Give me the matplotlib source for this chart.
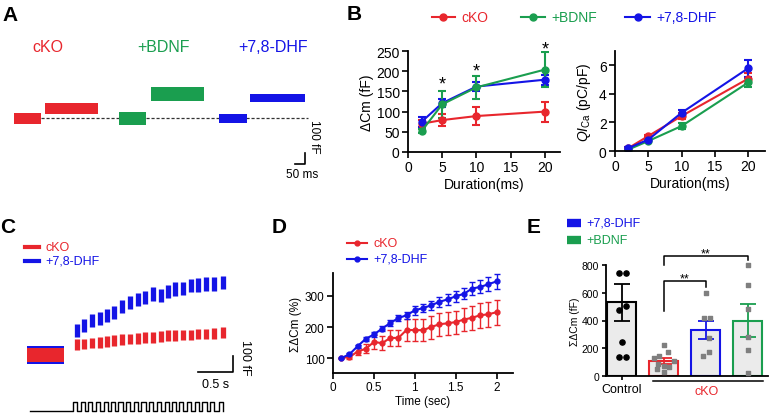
import numpy as np
import matplotlib
matplotlib.use('Agg')
import matplotlib.pyplot as plt
from matplotlib.lines import Line2D

plt.rcParams['font.family'] = ['Liberation Sans', 'DejaVu Sans']
plt.rcParams['mathtext.fontset'] = 'custom'
plt.rcParams['mathtext.rm'] = 'Liberation Sans'
plt.rcParams['mathtext.it'] = 'Liberation Sans:italic'

RED = '#e8262d'
GREEN = '#1a9e4f'
BLUE = '#1414e6'

####### data ###################################
# A: example capacitance jumps (ms, fF)
a_labels = ['cKO', '+BDNF', '+7,8-DHF']
a_base_ms = [(70, 205), (595, 730), (1095, 1235)]
a_step_ms = [(225, 490), (755, 1020), (1250, 1525)]
a_step_fF = [91, 221, 182]

# B: dCm and QICa vs duration
dur = [2, 5, 10, 20]
dcm_cko = [70, 79, 89, 100]
dcm_cko_err = [10, 14, 22, 25]
dcm_bdnf = [52, 118, 160, 204]
dcm_bdnf_err = [5, 33, 28, 43]
dcm_dhf = [75, 121, 162, 179]
dcm_dhf_err = [12, 10, 12, 12]
star_dur = [5, 10, 20]
star_y = [168, 200, 256]
q_cko = [0.2, 1.05, 2.45, 5.07]
q_cko_err = [0.05, 0.1, 0.2, 0.4]
q_bdnf = [0.1, 0.7, 1.75, 4.8]
q_bdnf_err = [0.05, 0.08, 0.2, 0.3]
q_dhf = [0.2, 0.8, 2.68, 5.8]
q_dhf_err = [0.05, 0.1, 0.2, 0.6]

# C: train responses (s, fF above baseline)
c_base = (0.10, 0.63)
c_t = [0.81, 0.92, 1.03, 1.14, 1.25, 1.35, 1.46, 1.57, 1.68, 1.79,
       1.90, 2.01, 2.12, 2.22, 2.33, 2.44, 2.55, 2.66, 2.77, 2.90]
c_dhf = [152, 183, 214, 229, 246, 267, 304, 329, 346, 361,
         381, 371, 396, 413, 417, 433, 438, 444, 444, 454]
c_cko = [63, 69, 75, 79, 83, 89, 96, 100, 104, 111,
         111, 117, 121, 121, 125, 125, 131, 131, 136, 142]

# D: cumulative dCm (%)
d_t = [0.1, 0.2, 0.3, 0.4, 0.5, 0.6, 0.7, 0.8, 0.9, 1.0,
       1.1, 1.2, 1.3, 1.4, 1.5, 1.6, 1.7, 1.8, 1.9, 2.0]
d_cko = [101, 103, 121, 130, 152, 148, 165, 165, 191, 190,
         190, 200, 209, 212, 216, 224, 230, 238, 241, 248]
d_cko_err = [0, 6, 12, 15, 22, 22, 25, 25, 36, 35,
             35, 37, 37, 37, 37, 38, 38, 40, 40, 40]
d_dhf = [100, 112, 138, 162, 176, 195, 213, 229, 238, 254,
         261, 270, 281, 289, 299, 307, 324, 329, 338, 347]
d_dhf_err = [0, 3, 5, 6, 8, 9, 10, 11, 12, 14,
             14, 15, 16, 17, 17, 18, 20, 21, 22, 24]

# E: sum dCm (fF)
e_mean = [530, 108, 330, 400]
e_sem = [135, 22, 64, 117]
e_ctrl = [742, 742, 502, 478, 247, 135, 135]
e_cko = [226, 171, 147, 127, 105, 88, 74, 63, 50, 26]
e_dhf = [596, 416, 420, 272, 171, 142]
e_bdnf = [802, 658, 483, 279, 187, 19]

####### layout helpers (pixel coords, origin top-left) ###############
W, H = 771, 414
fig = plt.figure(figsize=(W / 100, H / 100), dpi=100)


def ax_px(x0, y0, x1, y1):
    return fig.add_axes([x0 / W, 1 - y1 / H, (x1 - x0) / W, (y1 - y0) / H])


def ftext(x, y, s, **kw):
    fig.text(x / W, 1 - y / H, s, **kw)


def fline(xs, ys, **kw):
    fig.add_artist(Line2D([x / W for x in xs], [1 - y / H for y in ys],
                          transform=fig.transFigure, **kw))


def style(ax, fs):
    for s in ['top', 'right']:
        ax.spines[s].set_visible(False)
    for s in ['left', 'bottom']:
        ax.spines[s].set_linewidth(1.3)
    ax.tick_params(direction='out', length=4, width=1.2, labelsize=fs, pad=2)


for lab, x, y in [('A', 2, 6), ('B', 347, 5), ('C', 0, 218), ('D', 272, 218), ('E', 527, 218)]:
    ftext(x, y, lab, fontsize=15, fontweight='bold', va='top', ha='left')

####### A ###############
axA = ax_px(0, 40, 330, 175)
axA.set_xlim(0, 1650)
axA.set_ylim(-506, 721)
axA.axis('off')
colsA = [RED, GREEN, BLUE]
halfA = [48, 60, 38]
axA.plot([205, 1540], [0, 0], color='#333333', lw=0.9, ls=(0, (2.5, 1.5)), zorder=1)
for i in range(3):
    b0, b1 = a_base_ms[i]
    s0, s1 = a_step_ms[i]
    axA.fill_between([b0, b1], -halfA[i], halfA[i], color=colsA[i], lw=0, zorder=2)
    axA.fill_between([s0, s1], a_step_fF[i] - halfA[i], a_step_fF[i] + halfA[i],
                     color=colsA[i], lw=0, zorder=2)
axA.plot([1475, 1525, 1525], [-415, -415, -315], color='black', lw=1.2)
ftext(48, 48, 'cKO', color=RED, fontsize=11.5, ha='center', va='center')
ftext(164, 48, '+BDNF', color=GREEN, fontsize=11.5, ha='center', va='center')
ftext(273, 48, '+7,8-DHF', color=BLUE, fontsize=11.5, ha='center', va='center')
ftext(314, 137, '100 fF', rotation=270, fontsize=8.5, ha='center', va='center')
ftext(302, 175, '50 ms', fontsize=8.5, ha='center', va='center')

####### B ###############
axB1 = ax_px(408, 52, 560, 153)
style(axB1, 10)
kw = dict(marker='o', ms=5, lw=1.5, capsize=3, elinewidth=1.5, capthick=1.5)
axB1.errorbar(dur, dcm_cko, yerr=dcm_cko_err, color=RED, **kw)
axB1.errorbar(dur, dcm_dhf, yerr=dcm_dhf_err, color=BLUE, **kw)
axB1.errorbar(dur, dcm_bdnf, yerr=dcm_bdnf_err, color=GREEN, **kw)
for x, y in zip(star_dur, star_y):
    axB1.text(x, y, '*', ha='center', va='center', fontsize=13, clip_on=False)
axB1.set_xlim(0, 22.2)
axB1.set_ylim(0, 250)
axB1.set_xticks([0, 5, 10, 15, 20])
axB1.set_yticks([0, 50, 100, 150, 200, 250])
axB1.set_ylabel('ΔCm (fF)', fontsize=10, labelpad=2)
axB1.set_xlabel('Duration(ms)', fontsize=10, labelpad=2)

axB2 = ax_px(615, 52, 765, 152)
style(axB2, 10)
axB2.errorbar(dur, q_cko, yerr=q_cko_err, color=RED, **kw)
axB2.errorbar(dur, q_bdnf, yerr=q_bdnf_err, color=GREEN, **kw)
axB2.errorbar(dur, q_dhf, yerr=q_dhf_err, color=BLUE, **kw)
axB2.set_xlim(0, 22.5)
axB2.set_ylim(0, 7)
axB2.set_xticks([0, 5, 10, 15, 20])
axB2.set_yticks([0, 2, 4, 6])
axB2.set_ylabel(r'$QI_{\mathrm{Ca}}$ (pC/pF)', fontsize=10, labelpad=4)
axB2.set_xlabel('Duration(ms)', fontsize=10, labelpad=2)

for x0, x1, c, t in [(432, 455, RED, 'cKO'), (521, 545, GREEN, '+BDNF'), (625, 650, BLUE, '+7,8-DHF')]:
    fline([x0, x1], [18, 18], color=c, lw=1.5)
    fline([(x0 + x1) / 2], [18], color=c, marker='o', ms=5)
    ftext(x1 + 6, 18, t, color=c, fontsize=10, va='center')

####### C ###############
axC = ax_px(20, 270, 250, 414)
axC.set_xlim(0, 3.286)
axC.set_ylim(-362.5, 537.5)
axC.axis('off')
axC.fill_between(c_base, -56, 56, color=BLUE, lw=0)
axC.fill_between(c_base, -45, 45, color=RED, lw=0)
c_dhf_a = np.array(c_dhf)
c_cko_a = np.array(c_cko)
axC.vlines(c_t, c_dhf_a - 42, c_dhf_a + 42, color=BLUE, lw=3.8)
axC.vlines(c_t, c_cko_a - 34, c_cko_a + 34, color=RED, lw=3.8)
axC.plot([2.543, 3.043, 3.043], [-106, -106, -6], color='black', lw=1.2)
# stimulus train
sx = [0.143]
sy = [-348]
for t in c_t:
    sx += [t - 0.055, t - 0.055, t + 0.005, t + 0.005]
    sy += [-348, -292, -292, -348]
axC.plot(sx, sy, color='black', lw=1.0)
ftext(245, 358, '100 fF', rotation=270, fontsize=9, ha='center', va='center')
ftext(216, 385, '0.5 s', fontsize=9, ha='center', va='center')
for y, c, t in [(248, RED, 'cKO'), (262, BLUE, '+7,8-DHF')]:
    fline([25, 39], [y, y], color=c, lw=3)
    ftext(45, y, t, color=c, fontsize=9, va='center')

####### D ###############
axD = ax_px(333, 274, 513, 374)
style(axD, 8.5)
kwd = dict(marker='o', ms=3.5, lw=1.5, capsize=2.5, elinewidth=1.0, capthick=1.0)
axD.errorbar(d_t, d_cko, yerr=d_cko_err, color=RED, **kwd)
axD.errorbar(d_t, d_dhf, yerr=d_dhf_err, color=BLUE, **kwd)
axD.set_xlim(0, 2.2)
axD.set_ylim(52, 374)
axD.set_yticks([100, 200, 300])
axD.set_xticks([0, 0.5, 1, 1.5, 2])
axD.set_xticklabels(['0', '0.5', '1', '1.5', '2'])
axD.set_ylabel('ΣΔCm (%)', fontsize=8.5, labelpad=2)
axD.set_xlabel('Time (sec)', fontsize=8.5, labelpad=1)
for y, c, t in [(244, RED, 'cKO'), (260, BLUE, '+7,8-DHF')]:
    fline([347, 367], [y, y], color=c, lw=1.5)
    fline([357], [y], color=c, marker='o', ms=3.5)
    ftext(373, y, t, color=c, fontsize=9, va='center')

####### E ###############
axE = ax_px(606, 266, 768, 377)
style(axE, 7.5)
axE.tick_params(length=3)
pos = [0, 1, 2, 3]
ecol = ['black', RED, BLUE, GREEN]
axE.bar(pos, e_mean, width=0.69, color='#ebebeb', edgecolor=ecol, lw=1.5, zorder=1)
for p, m, s, c in zip(pos, e_mean, e_sem, ecol):
    axE.errorbar([p], [m], yerr=[s], fmt='none', ecolor=c, capsize=5.5,
                 elinewidth=1.3, capthick=1.3, zorder=3)
off_ctrl = [-0.07, 0.1, 0.1, -0.07, 0.0, -0.07, 0.1]
off_cko = [0.01, 0.09, -0.11, -0.24, 0.24, -0.13, 0.0, 0.12, -0.16, 0.0]
off_dhf = [0.0, -0.05, 0.1, 0.07, 0.08, -0.08]
off_bdnf = [0, 0, 0, 0, 0, 0]
axE.scatter(np.array(off_ctrl) + 0, e_ctrl, s=14, color='black', zorder=4, clip_on=False)
axE.scatter(np.array(off_cko) + 1, e_cko, s=11, marker='s', color='#7f7f7f', zorder=4, clip_on=False)
axE.scatter(np.array(off_dhf) + 2, e_dhf, s=11, marker='s', color='#7f7f7f', zorder=4, clip_on=False)
axE.scatter(np.array(off_bdnf) + 3, e_bdnf, s=11, marker='s', color='#7f7f7f', zorder=4, clip_on=False)
axE.plot([1, 1, 3, 3], [800, 868, 868, 838], color='black', lw=1.1, clip_on=False)
axE.plot([1, 1, 2, 2], [470, 682, 682, 643], color='black', lw=1.1, clip_on=False)
axE.text(2, 880, '**', ha='center', va='center', fontsize=9, clip_on=False)
axE.text(1.5, 705, '**', ha='center', va='center', fontsize=9, clip_on=False)
axE.set_xlim(-0.38, 3.48)
axE.set_ylim(0, 800)
axE.set_yticks([0, 200, 400, 600, 800])
axE.set_xticks([0])
axE.set_xticklabels(['Control'], fontsize=9)
axE.set_ylabel('ΣΔCm (fF)', fontsize=7.5, labelpad=1)
fline([653, 763], [382, 382], color='black', lw=1.1)
ftext(707, 392, 'cKO', color=RED, fontsize=9, ha='center', va='center')
for y, c, t in [(224, BLUE, '+7,8-DHF'), (241, GREEN, '+BDNF')]:
    fline([567, 581], [y, y], color=c, lw=6, solid_capstyle='butt')
    ftext(586, y, t, color=c, fontsize=9, va='center')

fig.savefig('out.png', dpi=100)
